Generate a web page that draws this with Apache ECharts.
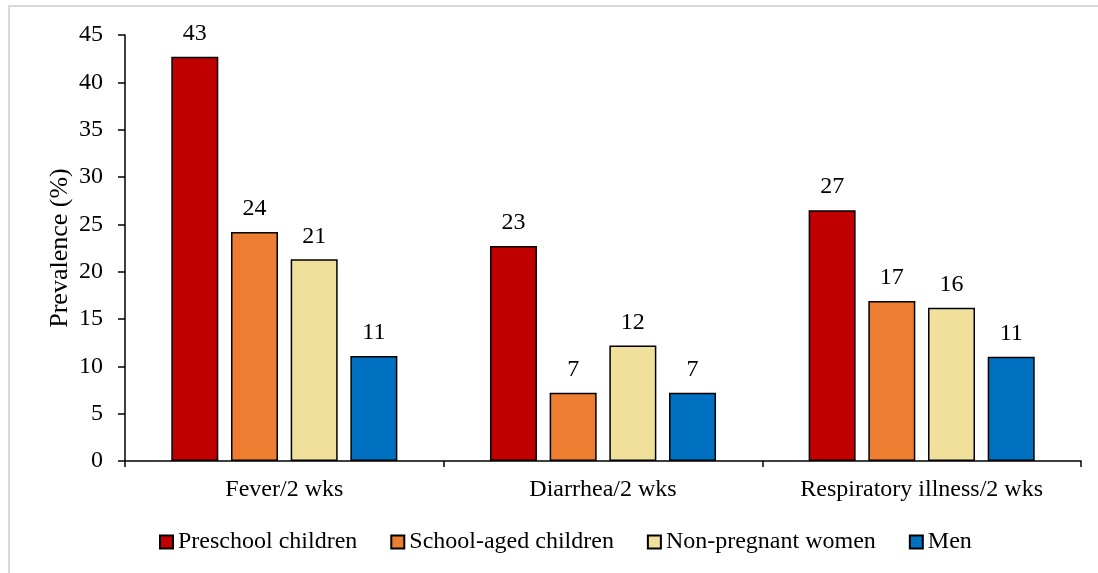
<!DOCTYPE html>
<html>
<head>
<meta charset="utf-8">
<script src="https://cdn.jsdelivr.net/npm/echarts@6/dist/echarts.min.js"></script>
<style>html,body{margin:0;padding:0;background:#fff;}#chart{width:1098px;height:573px;}</style>
</head>
<body>
<div id="chart"></div>
<script>
const categories = ['Fever/2 wks', 'Diarrhea/2 wks', 'Respiratory illness/2 wks'];
const seriesNames = ['Preschool children', 'School-aged children', 'Non-pregnant women', 'Men'];
const preschool = [42.7, 22.7, 26.5];
const schoolAged = [24.2, 7.2, 16.9];
const nonPregnant = [21.3, 12.2, 16.2];
const men = [11.1, 7.2, 11.0];
const yTicks = [0, 5, 10, 15, 20, 25, 30, 35, 40, 45];
const colors = ['#C00000', '#ED7D31', '#F1E09B', '#0070C0'];

const font = "'Liberation Serif', 'Times New Roman', serif";
const values = [preschool, schoolAged, nonPregnant, men];

const chart = echarts.init(document.getElementById('chart'));
chart.setOption({
  animation: false,
  backgroundColor: '#fff',
  textStyle: { fontFamily: font, color: '#000' },
  graphic: [{
    type: 'rect',
    shape: { x: 9, y: 6, width: 1200, height: 700 },
    style: { fill: 'none', stroke: '#d9d9d9', lineWidth: 2 },
    silent: true
  }],
  grid: { left: 125, right: 17, top: 35, bottom: 112 },
  legend: {
    left: 154,
    top: 525,
    itemWidth: 13,
    itemHeight: 13,
    itemGap: 33,
    icon: 'rect',
    data: seriesNames,
    textStyle: { fontFamily: font, fontSize: 24, color: '#000' }
  },
  xAxis: {
    type: 'category',
    data: categories,
    axisLine: { lineStyle: { color: '#000', width: 1.5 } },
    axisTick: { show: true, length: 6, lineStyle: { color: '#000', width: 1.5 } },
    axisLabel: { fontFamily: font, fontSize: 24, color: '#000', margin: 17 }
  },
  yAxis: {
    type: 'value',
    min: yTicks[0],
    max: yTicks[yTicks.length - 1],
    interval: 5,
    name: 'Prevalence (%)',
    nameLocation: 'middle',
    nameGap: 52,
    nameMoveOverlap: false,
    nameTextStyle: { fontFamily: font, fontSize: 26, color: '#000' },
    axisLine: { show: true, lineStyle: { color: '#000', width: 1.5 } },
    axisTick: { show: true, length: 7, lineStyle: { color: '#000', width: 1.5 } },
    splitLine: { show: false },
    axisLabel: { fontFamily: font, fontSize: 24, color: '#000', margin: 22 }
  },
  series: seriesNames.map((name, i) => ({
    name: name,
    type: 'bar',
    data: values[i],
    barWidth: 47,
    barGap: '27%',
    itemStyle: { color: colors[i], borderColor: '#000', borderWidth: 1.5 },
    label: {
      show: true,
      position: 'top',
      distance: 11,
      fontFamily: font,
      fontSize: 24,
      color: '#000',
      formatter: p => Math.round(p.value)
    }
  }))
});
</script>
</body>
</html>
